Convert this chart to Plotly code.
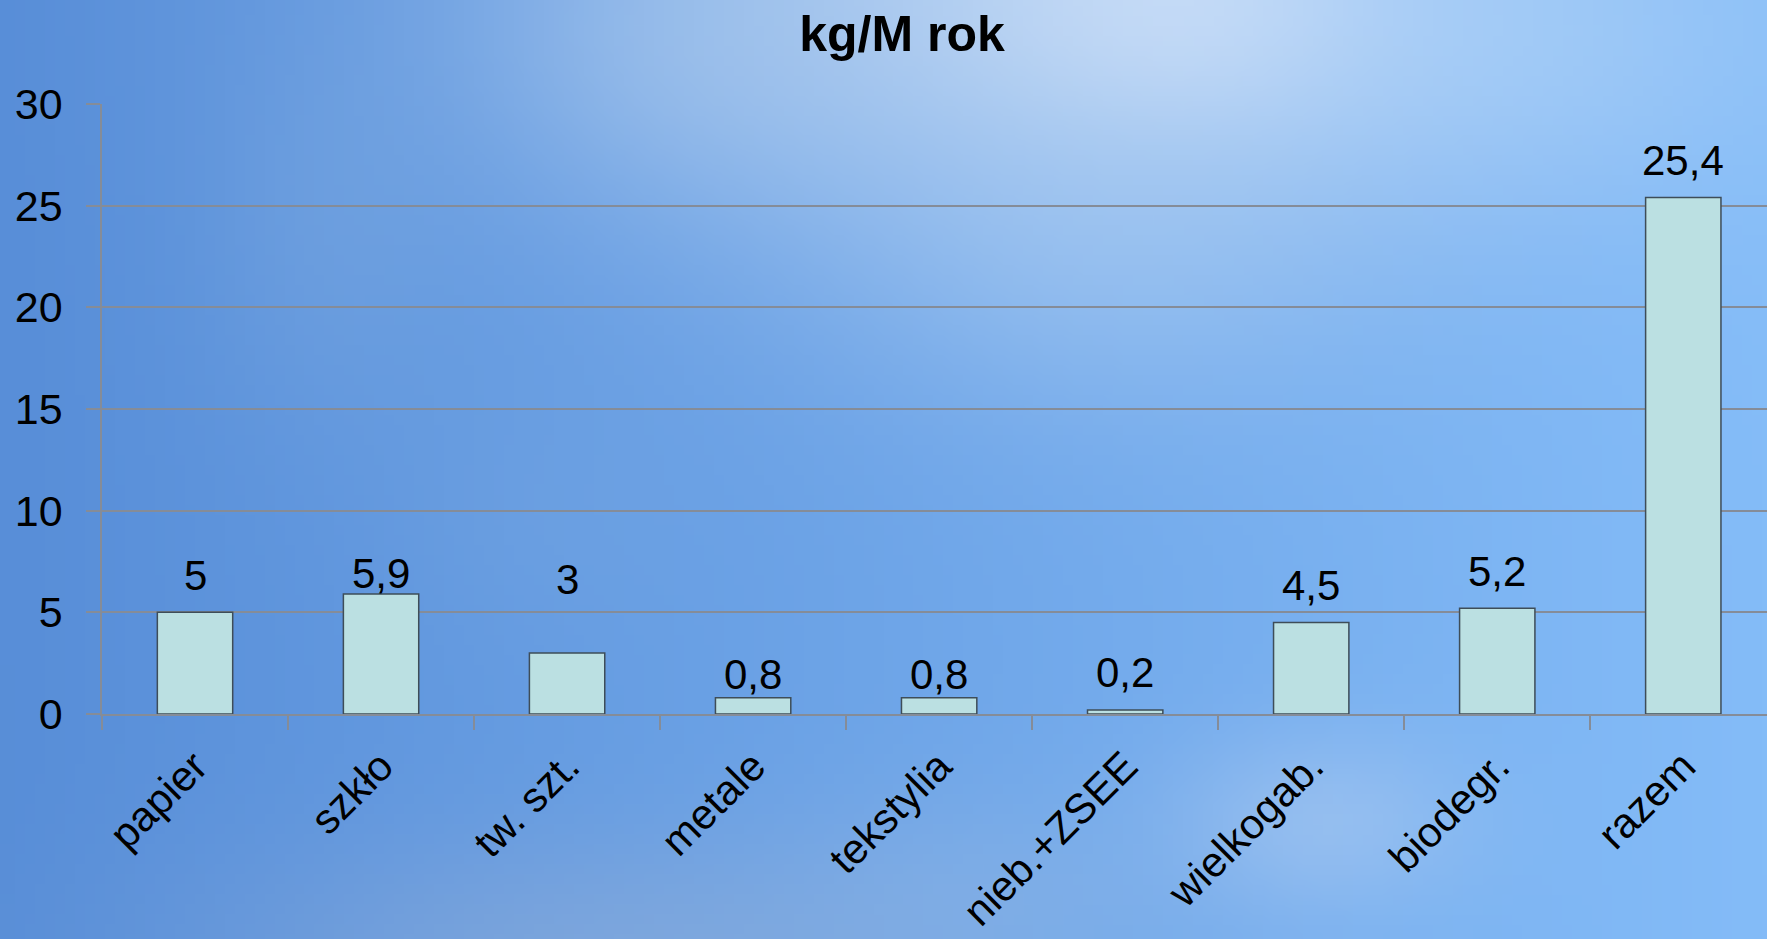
import base64
import struct
import zlib

import numpy as np
import plotly.graph_objects as go

# --- data -------------------------------------------------------------------
categories = ["papier", "szkło", "tw. szt.", "metale", "tekstylia",
              "nieb.+ZSEE", "wielkogab.", "biodegr.", "razem"]
values = [5, 5.9, 3, 0.8, 0.8, 0.2, 4.5, 5.2, 25.4]
y_ticks = [0, 5, 10, 15, 20, 25, 30]

# vertical offset (px) of each value label above its bar top
label_lift = [37, 21, 74, 23, 23, 37, 37, 37, 37]

# --- page geometry ------------------------------------------------------------
W, H = 1767, 939
ML, MR, MT, MB = 102, 0, 104, 225
PW, PH = W - ML - MR, H - MT - MB

FONT = "Liberation Sans, Arial, sans-serif"
GRID = "#858c98"


def sky_png(w=177, h=94):
    """Soft blue sky backdrop with a few pale cloud patches, as a PNG data URI."""
    u = np.linspace(0, 1, w)[None, :]
    v = np.linspace(0, 1, h)[:, None]
    left = np.array([88, 142, 216], float)
    right = np.array([132, 188, 248], float)
    img = left[None, None, :] * (1 - u[..., None]) + right[None, None, :] * u[..., None]
    img = img + np.zeros((h, w, 1))

    def blob(cx, cy, sx, sy, strength, colour):
        g = np.exp(-(((u - cx) / sx) ** 2 + ((v - cy) / sy) ** 2) / 2) * strength
        return g[..., None], np.array(colour, float)[None, None, :]

    patches = [
        # bright haze along the top
        (0.60, -0.02, 0.20, 0.20, 0.75, (200, 220, 244)),
        (0.68, 0.00, 0.08, 0.10, 0.55, (216, 230, 250)),
        (0.86, 0.04, 0.10, 0.12, 0.45, (175, 212, 250)),
        (0.40, 0.05, 0.08, 0.10, 0.35, (170, 200, 235)),
        # wisps
        (0.63, 0.26, 0.10, 0.12, 0.35, (175, 207, 242)),
        (0.18, 0.25, 0.05, 0.15, 0.20, (140, 180, 225)),
        (0.30, 0.55, 0.06, 0.10, 0.12, (140, 180, 225)),
        # lower haze
        (0.35, 1.02, 0.16, 0.09, 0.45, (150, 176, 214)),
        (0.75, 0.88, 0.06, 0.07, 0.45, (182, 207, 240)),
        (0.55, 0.95, 0.08, 0.08, 0.20, (160, 190, 228)),
    ]
    for cx, cy, sx, sy, s, c in patches:
        g, col = blob(cx, cy, sx, sy, s, c)
        img = img * (1 - g) + col * g

    arr = np.clip(img, 0, 255).astype(np.uint8)
    raw = b"".join(b"\x00" + row.tobytes() for row in arr)

    def chunk(tag, data):
        return (struct.pack(">I", len(data)) + tag + data
                + struct.pack(">I", zlib.crc32(tag + data) & 0xFFFFFFFF))

    png = (b"\x89PNG\r\n\x1a\n"
           + chunk(b"IHDR", struct.pack(">IIBBBBB", w, h, 8, 2, 0, 0, 0))
           + chunk(b"IDAT", zlib.compress(raw, 9))
           + chunk(b"IEND", b""))
    return "data:image/png;base64," + base64.b64encode(png).decode()


fig = go.Figure(
    go.Bar(
        x=categories,
        y=values,
        marker=dict(color="#bbe0e2", line=dict(color="#3e4d58", width=1.5)),
        width=0.405,
        hoverinfo="x+y",
    )
)

for cat, val, lift in zip(categories, values, label_lift):
    fig.add_annotation(
        x=cat, y=val, text=f"{val:g}".replace(".", ","),
        showarrow=False, yanchor="middle", yshift=lift,
        font=dict(family=FONT, size=42, color="#000000"),
    )

fig.add_layout_image(
    source=sky_png(), xref="paper", yref="paper",
    x=-ML / PW, y=1 + MT / PH, sizex=W / PW, sizey=H / PH,
    xanchor="left", yanchor="top", sizing="stretch", layer="below",
)

fig.update_layout(
    width=W, height=H,
    margin=dict(l=ML, r=MR, t=MT, b=MB, pad=0, autoexpand=False),
    paper_bgcolor="rgba(0,0,0,0)",
    plot_bgcolor="rgba(0,0,0,0)",
    showlegend=False,
    title=dict(
        text="<b>kg/M rok</b>", x=902 / W, xanchor="center",
        y=1 - 33 / H, yanchor="middle", xref="container", yref="container",
        font=dict(family=FONT, size=50, color="#000000"),
    ),
    font=dict(family=FONT, color="#000000"),
    xaxis=dict(
        type="category", range=[-0.5, 8.45], automargin=False,
        showgrid=False, showline=True, linecolor=GRID, linewidth=1.5,
        ticks="outside", tickson="boundaries", ticklen=14,
        tickcolor=GRID, tickwidth=1.5, tickangle=-45,
        ticklabelstandoff=9,
        tickfont=dict(family=FONT, size=42, color="#000000"),
    ),
    yaxis=dict(
        range=[0, 30], tickvals=y_ticks, showgrid=True, automargin=False,
        gridcolor=GRID, gridwidth=1.5, zeroline=False,
        showline=True, linecolor=GRID, linewidth=1.5,
        ticks="outside", ticklen=14, tickcolor=GRID, tickwidth=1.5,
        ticklabelstandoff=15,
        tickfont=dict(family=FONT, size=43, color="#000000"),
    ),
)

fig.write_html("out.html")
